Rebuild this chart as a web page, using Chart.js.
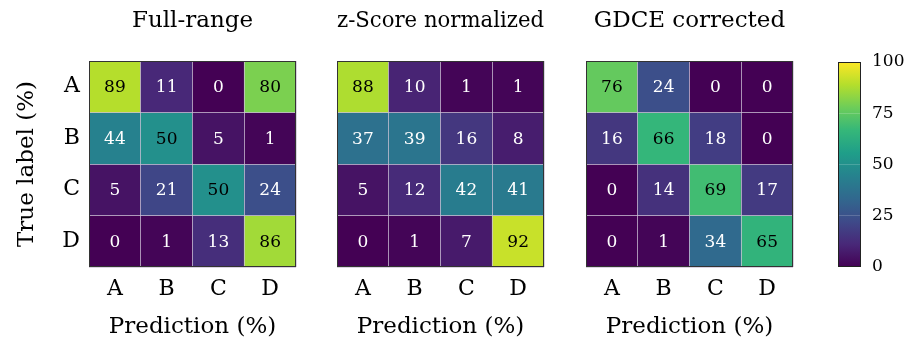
<!DOCTYPE html>
<html><head><meta charset="utf-8">
<script src="https://cdn.jsdelivr.net/npm/chart.js@4/dist/chart.umd.min.js"></script>
<style>
html,body{margin:0;padding:0;background:#fff;width:915px;height:345px;overflow:hidden}
canvas{position:absolute;top:0}
</style></head><body>
<canvas id="m1" width="300" height="345" style="left:0px;width:300px;height:345px"></canvas>
<canvas id="m2" width="240" height="345" style="left:310px;width:240px;height:345px"></canvas>
<canvas id="m3" width="240" height="345" style="left:559px;width:240px;height:345px"></canvas>
<canvas id="cb" width="85" height="345" style="left:830px;width:85px;height:345px"></canvas>
<script>
// ---- data ----
const predLabels = ['A', 'B', 'C', 'D'];
const trueLabels = ['A', 'B', 'C', 'D'];
const titles = ['Full-range', 'z-Score normalized', 'GDCE corrected'];
const fullRange = [[89, 11, 0, 80], [44, 50, 5, 1], [5, 21, 50, 24], [0, 1, 13, 86]];
const zScore    = [[88, 10, 1, 1], [37, 39, 16, 8], [5, 12, 42, 41], [0, 1, 7, 92]];
const gdce      = [[76, 24, 0, 0], [16, 66, 18, 0], [0, 14, 69, 17], [0, 1, 34, 65]];
const colorbarTicks = [0, 25, 50, 75, 100];
const xTitle = 'Prediction (%)';
const yTitle = 'True label (%)';

// ---- style ----
const FAMILY = "'DejaVu Serif', serif";
const VIRIDIS = ['#440154', '#482878', '#3E4A89', '#31688E', '#26828E', '#1F9E89', '#35B779', '#6DCD59', '#B4DE2C', '#FDE725'];
function hexToRgb(h) { return [parseInt(h.slice(1, 3), 16), parseInt(h.slice(3, 5), 16), parseInt(h.slice(5, 7), 16)]; }
function viridis(t) {
  t = Math.max(0, Math.min(1, t));
  const n = VIRIDIS.length - 1;
  const p = t * n, i = Math.min(Math.floor(p), n - 1), f = p - i;
  const a = hexToRgb(VIRIDIS[i]), b = hexToRgb(VIRIDIS[i + 1]);
  const c = a.map((v, k) => Math.round(v + (b[k] - v) * f));
  return `rgb(${c[0]},${c[1]},${c[2]})`;
}
const gridColor = 'rgba(205,195,215,0.75)';
Chart.defaults.color = '#000';
Chart.defaults.animation = false;

const cellText = {
  id: 'cellText',
  afterDatasetsDraw(chart) {
    const ctx = chart.ctx;
    ctx.save();
    ctx.font = "17px " + FAMILY;
    ctx.textAlign = 'center';
    ctx.textBaseline = 'middle';
    chart.data.datasets.forEach((ds, i) => {
      if (!ds.values) return;
      chart.getDatasetMeta(i).data.forEach((el, j) => {
        const v = ds.values[j];
        ctx.fillStyle = v >= 50 ? '#000' : '#fff';
        ctx.fillText(String(v), el.x, (el.y + el.base) / 2 + 1);
      });
    });
    ctx.restore();
  }
};
const frame = {
  id: 'frame',
  afterDraw(chart, args, opts) {
    const a = chart.chartArea, ctx = chart.ctx;
    ctx.save();
    ctx.strokeStyle = opts.color || '#333';
    ctx.lineWidth = 1;
    ctx.strokeRect(Math.round(a.left) + 0.5, Math.round(a.top) + 0.5, Math.round(a.right - a.left) - 1, Math.round(a.bottom - a.top) - 1);
    ctx.restore();
  }
};

function makeMatrix(id, title, matrix, yWidth, padRight, showY) {
  const nRows = trueLabels.length;
  const datasets = matrix.map((row, r) => ({
    data: row.map(() => [nRows - 1 - r, nRows - r]),
    values: row,
    backgroundColor: row.map(v => viridis(v / 100)),
    borderWidth: 0,
    grouped: false,
    barPercentage: 1,
    categoryPercentage: 1,
    yAxisID: 'yv'
  }));
  new Chart(document.getElementById(id), {
    type: 'bar',
    data: { labels: predLabels, datasets },
    options: {
      responsive: false,
      animation: false,
      layout: { padding: { left: 0, right: padRight, top: 0, bottom: 0 } },
      plugins: {
        legend: { display: false },
        tooltip: { enabled: false },
        title: { display: true, text: title, fullSize: false, color: '#000',
                 font: { family: FAMILY, size: 23, weight: 'normal' }, padding: { top: 7, bottom: 26.4 } },
        frame: { color: '#333' }
      },
      scales: {
        x: {
          type: 'category', labels: predLabels, offset: true,
          grid: { offset: true, color: gridColor, drawTicks: false, z: 1 },
          border: { display: false },
          ticks: { font: { family: FAMILY, size: 22 }, color: '#000', padding: 9 },
          title: { display: true, text: xTitle, color: '#000', font: { family: FAMILY, size: 23 }, padding: { top: 0, bottom: 4 } },
          afterFit(s) { s.height = 78; }
        },
        y: {
          type: 'category', labels: trueLabels, offset: true, position: 'left',
          grid: { offset: true, color: gridColor, drawTicks: false, z: 1 },
          border: { display: false },
          ticks: { display: showY, font: { family: FAMILY, size: 22 }, color: '#000', padding: 9 },
          title: { display: showY, text: yTitle, color: '#000', font: { family: FAMILY, size: 23 }, padding: { top: 13, bottom: 0 } },
          afterFit(s) { s.width = yWidth; }
        },
        yv: { type: 'linear', display: false, min: 0, max: nRows }
      }
    },
    plugins: [cellText, frame]
  });
}

makeMatrix('m1', titles[0], fullRange, 89, 4, true);
makeMatrix('m2', titles[1], zScore, 27, 6, false);
makeMatrix('m3', titles[2], gdce, 27, 6, false);

// ---- colorbar ----
new Chart(document.getElementById('cb'), {
  type: 'bar',
  data: {
    labels: ['cb'],
    datasets: [{
      data: [[colorbarTicks[0], colorbarTicks[colorbarTicks.length - 1]]],
      backgroundColor(c) {
        const ys = c.chart.scales && c.chart.scales.y;
        if (!ys || !c.chart.chartArea) return viridis(0.5);
        const y0 = ys.getPixelForValue(colorbarTicks[0]);
        const y1 = ys.getPixelForValue(colorbarTicks[colorbarTicks.length - 1]);
        const g = c.chart.ctx.createLinearGradient(0, y0, 0, y1);
        VIRIDIS.forEach((s, i) => g.addColorStop(i / (VIRIDIS.length - 1), s));
        return g;
      },
      borderWidth: 0, barPercentage: 1, categoryPercentage: 1
    }]
  },
  options: {
    responsive: false,
    animation: false,
    layout: { padding: { left: 8, right: 0, top: 62, bottom: 78 } },
    plugins: { legend: { display: false }, tooltip: { enabled: false }, frame: { color: '#222' } },
    scales: {
      x: { display: false, offset: true },
      y: {
        type: 'linear', position: 'right', min: 0, max: 100,
        afterBuildTicks(s) { s.ticks = colorbarTicks.map(v => ({ value: v })); },
        grid: { color: 'rgba(255,255,255,0.18)', drawTicks: false, z: 1 },
        border: { display: false },
        ticks: { font: { family: FAMILY, size: 17 }, color: '#000', padding: 11 },
        afterFit(s) { s.width = 54; }
      }
    }
  },
  plugins: [frame]
});
</script>
</body></html>
